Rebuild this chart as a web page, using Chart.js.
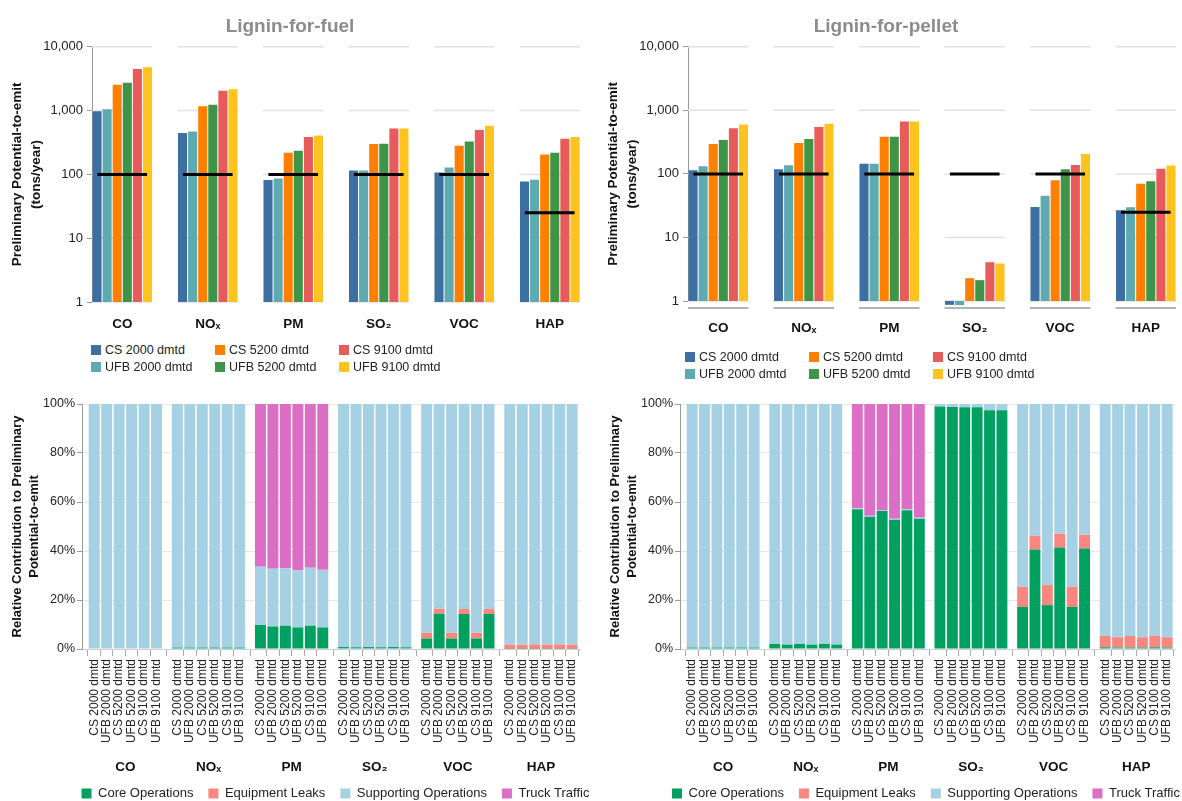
<!DOCTYPE html>
<html>
<head>
<meta charset="utf-8">
<script src="https://cdn.jsdelivr.net/npm/chart.js@4.4.1/dist/chart.umd.min.js"></script>
<style>
html,body{margin:0;padding:0;background:#fff;overflow:hidden;width:1182px;height:801px;position:relative;font-family:"Liberation Sans",Arial,Helvetica,sans-serif;}
canvas{position:absolute;}
.lgi{position:absolute;white-space:nowrap;font-size:12.5px;color:#222;height:14px;line-height:14px;}
.lgi span.sw{display:inline-block;width:10px;height:10px;vertical-align:-1px;margin-right:4px;}
</style>
</head>
<body>
<canvas id="tl" width="595" height="335" style="left:0;top:0"></canvas>
<canvas id="tr" width="586" height="345" style="left:596px;top:0"></canvas>
<canvas id="bl" width="671" height="430" style="left:0;top:380px"></canvas>
<canvas id="br" width="656" height="430" style="left:598px;top:380px"></canvas>
<script>
// ---------- categories / labels ----------
const pollutants = ['CO', 'NOₓ', 'PM', 'SO₂', 'VOC', 'HAP'];
const seriesLabels = ['CS 2000 dmtd', 'UFB 2000 dmtd', 'CS 5200 dmtd', 'UFB 5200 dmtd', 'CS 9100 dmtd', 'UFB 9100 dmtd'];
const seriesColors = ['#3d6fa3', '#5eaab1', '#ff8000', '#3e9548', '#e85b5b', '#ffc31f'];
const compNames = ['Core Operations', 'Equipment Leaks', 'Supporting Operations', 'Truck Traffic'];
const compColors = ['#00a060', '#f9877f', '#a6d0e4', '#dc6ec5'];
const decadeTicks = [1, 10, 100, 1000, 10000];
const percentTicks = [0, 20, 40, 60, 80, 100];

// ---------- Lignin-for-fuel: potential-to-emit (tons/year), order CO, NOx, PM, SO2, VOC, HAP ----------
const fuelCS2000  = [980, 445, 81.5, 115, 107, 77.6];
const fuelUFB2000 = [1050, 472, 86.5, 115, 128, 82.4];
const fuelCS5200  = [2550, 1170, 218, 299, 281, 206];
const fuelUFB5200 = [2740, 1240, 235, 302, 329, 218];
const fuelCS9100  = [4500, 2050, 385, 525, 495, 362];
const fuelUFB9100 = [4770, 2160, 408, 525, 580, 385];
const fuelThreshold = [100, 100, 100, 100, 100, 25];

// ---------- Lignin-for-pellet ----------
const pelletCS2000  = [114, 118, 145, 0.87, 30.2, 26.8];
const pelletUFB2000 = [132, 137, 145, 0.86, 45.4, 29.8];
const pelletCS5200  = [295, 306, 385, 2.29, 79.6, 69.7];
const pelletUFB5200 = [341, 354, 385, 2.13, 118, 76.8];
const pelletCS9100  = [525, 545, 668, 4.08, 138, 121];
const pelletUFB9100 = [600, 615, 668, 3.89, 206, 135];
const pelletThreshold = [100, 100, 100, 100, 100, 25];

// ---------- relative contributions (%), rows = pollutant, cols = series ----------
const fuelCore = [
  [0, 0, 0, 0, 0, 0],
  [0.6, 0.6, 0.6, 0.6, 0.6, 0.6],
  [9.8, 9.2, 9.5, 8.8, 9.5, 8.8],
  [0.8, 0.7, 0.8, 0.7, 0.8, 0.7],
  [4.3, 14.4, 4.3, 14.3, 4.3, 14.3],
  [0.1, 0.1, 0.1, 0.1, 0.1, 0.1]
];
const fuelLeaks = [
  [0, 0, 0, 0, 0, 0],
  [0, 0, 0, 0, 0, 0],
  [0, 0, 0, 0, 0, 0],
  [0, 0, 0, 0, 0, 0],
  [2.3, 2.0, 2.3, 2.0, 2.3, 2.0],
  [1.7, 1.6, 1.8, 1.7, 1.8, 1.7]
];
const fuelSupport = [
  [100, 100, 100, 100, 100, 100],
  [99.4, 99.4, 99.4, 99.4, 99.4, 99.4],
  [23.8, 23.6, 23.5, 23.2, 23.7, 23.5],
  [99.2, 99.3, 99.2, 99.3, 99.2, 99.3],
  [93.4, 83.6, 93.4, 83.7, 93.4, 83.7],
  [98.2, 98.3, 98.1, 98.2, 98.1, 98.2]
];
const fuelTruck = [
  [0, 0, 0, 0, 0, 0],
  [0, 0, 0, 0, 0, 0],
  [66.4, 67.2, 67.0, 68.0, 66.8, 67.7],
  [0, 0, 0, 0, 0, 0],
  [0, 0, 0, 0, 0, 0],
  [0, 0, 0, 0, 0, 0]
];
const pelletCore = [
  [0.6, 0.6, 0.6, 0.6, 0.6, 0.6],
  [2.1, 1.8, 2.1, 1.8, 2.1, 1.8],
  [57.0, 54.0, 56.3, 52.8, 56.6, 53.2],
  [99.0, 98.8, 98.7, 98.7, 97.5, 97.4],
  [17.2, 40.6, 17.9, 41.4, 17.2, 41.0],
  [0.7, 0.6, 0.6, 0.6, 0.7, 0.6]
];
const pelletLeaks = [
  [0, 0, 0, 0, 0, 0],
  [0, 0, 0, 0, 0, 0],
  [0, 0, 0, 0, 0, 0],
  [0, 0, 0, 0, 0, 0],
  [8.2, 5.6, 8.2, 5.7, 8.2, 5.6],
  [4.6, 4.2, 4.7, 4.2, 4.7, 4.2]
];
const pelletSupport = [
  [99.4, 99.4, 99.4, 99.4, 99.4, 99.4],
  [97.9, 98.2, 97.9, 98.2, 97.9, 98.2],
  [0.4, 0.4, 0.4, 0.4, 0.4, 0.4],
  [1.0, 1.2, 1.3, 1.3, 2.5, 2.6],
  [74.6, 53.8, 73.9, 52.9, 74.6, 53.4],
  [94.7, 95.2, 94.7, 95.2, 94.6, 95.2]
];
const pelletTruck = [
  [0, 0, 0, 0, 0, 0],
  [0, 0, 0, 0, 0, 0],
  [42.6, 45.6, 43.3, 46.8, 43.0, 46.4],
  [0, 0, 0, 0, 0, 0],
  [0, 0, 0, 0, 0, 0],
  [0, 0, 0, 0, 0, 0]
];

// ---------- drawing ----------
Chart.defaults.font.family = '"Liberation Sans", Arial, Helvetica, sans-serif';
Chart.defaults.color = '#222';
Chart.defaults.animation = false;

const CP_TOP = 0.708;
const CP_BOT = 0.9;

const groupMarks = {
  id: 'groupMarks',
  beforeDatasetsDraw(chart, args, o) {
    if (!o || !o.grid) return;
    const {ctx, chartArea} = chart;
    const xs = chart.scales.x, ys = chart.scales.y;
    const half = o.groupWidth / 2;
    ctx.save();
    ctx.lineWidth = 1.5;
    ctx.strokeStyle = o.gridColor;
    ys.ticks.forEach(t => {
      const py = ys.getPixelForValue(t.value);
      for (let i = 0; i < o.count; i++) {
        ctx.beginPath();
        ctx.moveTo(xs.getPixelForValue(i - half), py);
        ctx.lineTo(xs.getPixelForValue(i + half), py);
        ctx.stroke();
      }
    });
    if (o.baseOffset) {
      ctx.strokeStyle = o.baseColor;
      ctx.lineWidth = 2;
      const py = chartArea.bottom + o.baseOffset;
      for (let i = 0; i < o.count; i++) {
        ctx.beginPath();
        ctx.moveTo(xs.getPixelForValue(i - half), py);
        ctx.lineTo(xs.getPixelForValue(i + half), py);
        ctx.stroke();
      }
    }
    ctx.restore();
  },
  afterDatasetsDraw(chart, args, o) {
    if (!o || !o.thresholds) return;
    const {ctx} = chart;
    const xs = chart.scales.x, ys = chart.scales.y;
    ctx.save();
    ctx.strokeStyle = '#000';
    ctx.lineWidth = 3;
    o.thresholds.forEach((v, i) => {
      const py = ys.getPixelForValue(v);
      ctx.beginPath();
      ctx.moveTo(xs.getPixelForValue(i - o.thrHalf), py);
      ctx.lineTo(xs.getPixelForValue(i + o.thrHalf), py);
      ctx.stroke();
    });
    ctx.restore();
  }
};

function topChart(id, series, thresholds, title, xHeight, xPad, padRight, baseOffset) {
  return new Chart(document.getElementById(id), {
    type: 'bar',
    data: {
      datasets: series.map((vals, s) => ({
        label: seriesLabels[s],
        backgroundColor: seriesColors[s],
        borderWidth: 0,
        clip: false,
        data: vals.map((v, i) => ({x: i, y: v}))
      }))
    },
    options: {
      responsive: false,
      animation: false,
      categoryPercentage: CP_TOP,
      barPercentage: 0.9,
      layout: {padding: {right: padRight}},
      plugins: {
        legend: {display: false},
        tooltip: {enabled: false},
        title: {display: true, text: title, color: '#8c8c8c', font: {size: 19, weight: 'bold'}, padding: {top: 15, bottom: 9}},
        groupMarks: {grid: true, count: pollutants.length, groupWidth: CP_TOP, gridColor: '#e2e2e2',
          thresholds: thresholds, thrHalf: CP_TOP * 0.41, baseOffset: baseOffset, baseColor: '#b3b3b3'}
      },
      scales: {
        x: {
          type: 'linear', min: -CP_TOP / 2, max: pollutants.length - 1 + CP_TOP / 2, offset: false,
          afterBuildTicks: s => { s.ticks = pollutants.map((p, i) => ({value: i})); },
          afterFit: s => { s.height = xHeight; },
          grid: {display: false}, border: {display: false},
          ticks: {autoSkip: false, maxRotation: 0, padding: xPad, color: '#111',
            font: {size: 13.5, weight: 'bold'}, callback: v => pollutants[v]}
        },
        y: {
          type: 'logarithmic', min: 1, max: 10000,
          afterBuildTicks: s => { s.ticks = decadeTicks.map(v => ({value: v})); },
          afterFit: s => { s.width = 92; },
          grid: {drawOnChartArea: false, drawTicks: true, tickLength: 5, tickColor: '#999'},
          border: {color: '#999', width: 1},
          ticks: {autoSkip: false, padding: 4, font: {size: 13}, color: '#222',
            callback: v => Number(v).toLocaleString('en-US')},
          title: {display: true, text: ['Preliminary Potential-to-emit', '(tons/year)'], color: '#111',
            font: {size: 13.5, weight: 'bold', lineHeight: 1.45}, padding: {top: 7, bottom: 0}}
        }
      }
    },
    plugins: [groupMarks]
  });
}

function bottomChart(id, comps, padRight) {
  const datasets = [];
  seriesLabels.forEach((sl, s) => {
    compNames.forEach((cn, c) => {
      datasets.push({
        label: cn, stack: sl, backgroundColor: compColors[c], borderWidth: 0,
        data: comps[c].map((row, i) => ({x: i, y: row[s]}))
      });
    });
  });
  const xmin = -CP_BOT / 2 - 0.072, xmax = pollutants.length - 1 + CP_BOT / 2 + 0.02;
  return new Chart(document.getElementById(id), {
    type: 'bar',
    data: {datasets},
    options: {
      responsive: false,
      animation: false,
      categoryPercentage: CP_BOT,
      barPercentage: 0.88,
      layout: {padding: {top: 24}},
      plugins: {
        tooltip: {enabled: false},
        title: {display: false},
        legend: {
          display: true, position: 'bottom',
          labels: {boxWidth: 10, boxHeight: 10, padding: 15, color: '#222', font: {size: 13},
            filter: item => item.datasetIndex < compNames.length}
        }
      },
      scales: {
        x: {
          type: 'linear', stacked: true, min: xmin, max: xmax, weight: 1, offset: false,
          afterBuildTicks: s => { s.ticks = pollutants.map((p, i) => ({value: i})); },
          afterFit: s => { s.height = 28; },
          grid: {display: false}, border: {display: false},
          ticks: {autoSkip: false, maxRotation: 0, padding: 7, color: '#111',
            font: {size: 13.5, weight: 'bold'}, callback: v => pollutants[v]}
        },
        x2: {
          type: 'linear', position: 'bottom', min: xmin, max: xmax, weight: 0, offset: false,
          afterBuildTicks: s => {
            const t = [];
            pollutants.forEach((p, i) => seriesLabels.forEach((l, k) =>
              t.push({value: i + (k - (seriesLabels.length - 1) / 2) * CP_BOT / seriesLabels.length})));
            s.ticks = t;
          },
          afterFit: s => { s.height = 95; },
          grid: {drawOnChartArea: false, drawTicks: true, tickLength: 7, tickColor: '#aaa'},
          border: {display: true, color: '#cfcfcf'},
          ticks: {autoSkip: false, minRotation: 90, maxRotation: 90, padding: 3, color: '#222',
            font: {size: 12}, callback: (v, i) => seriesLabels[i % seriesLabels.length]}
        },
        y: {
          stacked: true, min: 0, max: 100,
          afterBuildTicks: s => { s.ticks = percentTicks.map(v => ({value: v})); },
          afterFit: s => { s.width = 82; },
          grid: {color: '#e8e8e8', drawTicks: true, tickLength: 5, tickColor: '#999'},
          border: {color: '#999'},
          ticks: {padding: 2, font: {size: 12.5}, color: '#222', callback: v => v + '%'},
          title: {display: true, text: ['Relative Contribution to Preliminary', 'Potential-to-emit'], color: '#111',
            font: {size: 13, weight: 'bold', lineHeight: 1.3}, padding: {top: 9, bottom: 0}}
        },
        pad: {
          type: 'linear', position: 'right', display: true,
          afterFit: s => { s.width = padRight; },
          grid: {display: false}, border: {display: false}, ticks: {display: false}
        }
      }
    }
  });
}

topChart('tl', [fuelCS2000, fuelUFB2000, fuelCS5200, fuelUFB5200, fuelCS9100, fuelUFB9100],
  fuelThreshold, 'Lignin-for-fuel', 33, 6, 15, 0);
topChart('tr', [pelletCS2000, pelletUFB2000, pelletCS5200, pelletUFB5200, pelletCS9100, pelletUFB9100],
  pelletThreshold, 'Lignin-for-pellet', 44, 11.5, 6, 7);
bottomChart('bl', [fuelCore, fuelLeaks, fuelSupport, fuelTruck], 91);
bottomChart('br', [pelletCore, pelletLeaks, pelletSupport, pelletTruck], 79);

// series legends (3 columns x 2 rows) under the top charts
function seriesLegend(x0, y0) {
  seriesLabels.forEach((l, s) => {
    const d = document.createElement('div');
    d.className = 'lgi';
    d.style.left = (x0 + Math.floor(s / 2) * 124) + 'px';
    d.style.top = (y0 + (s % 2) * 17 - 7) + 'px';
    const sw = document.createElement('span');
    sw.className = 'sw';
    sw.style.background = seriesColors[s];
    d.appendChild(sw);
    d.appendChild(document.createTextNode(l));
    document.body.appendChild(d);
  });
}
seriesLegend(91, 350);
seriesLegend(685, 357);
</script>
</body>
</html>
